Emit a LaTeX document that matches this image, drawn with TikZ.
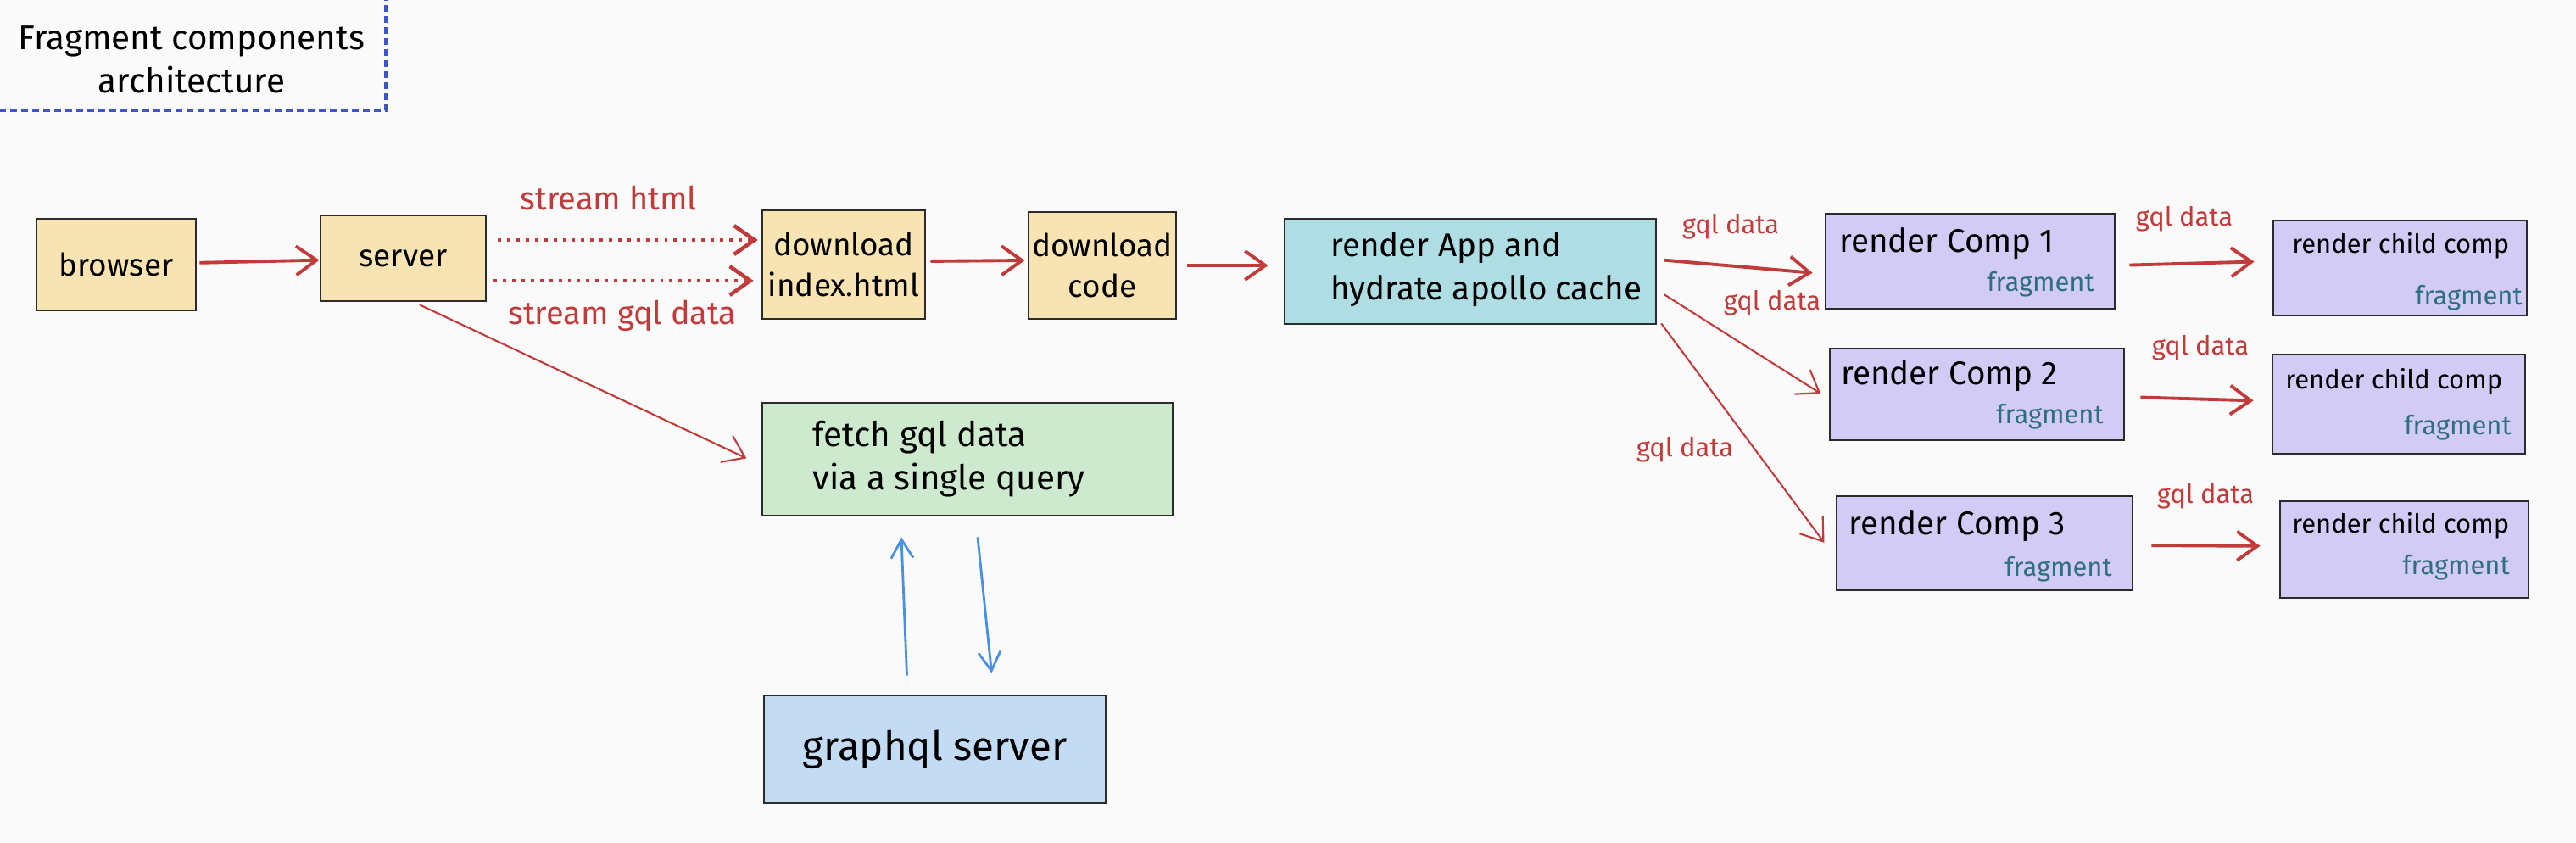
\documentclass[tikz,border=0pt]{standalone}
\usepackage{fontspec}
\setmainfont{Fira Sans}
\usetikzlibrary{arrows.meta, positioning, calc}

\definecolor{bgpaper}{HTML}{FAFAFA}
\definecolor{inkline}{HTML}{2B2B2B}
\definecolor{sandfill}{HTML}{F8E3B2}
\definecolor{mintfill}{HTML}{CDEACF}
\definecolor{tealfill}{HTML}{AEDDE3}
\definecolor{lilacfill}{HTML}{D2CBF6}
\definecolor{skyfill}{HTML}{C3DBF3}
\definecolor{flowred}{HTML}{C23B3B}
\definecolor{fragteal}{HTML}{2F6F7E}
\definecolor{queryblue}{HTML}{4A90E2}
\definecolor{frameblue}{HTML}{3D55C8}

\begin{document}
\begin{tikzpicture}[
    box/.style={rectangle, draw=inkline, line width=0.8pt, inner sep=0pt, align=center, font={\fontsize{10.5}{13.5}\selectfont}},
    comptext/.style={inner sep=0pt, font={\fontsize{11}{13}\selectfont}},
    childtext/.style={inner sep=0pt, font={\fontsize{8.8}{11}\selectfont}},
    fragtext/.style={inner sep=0pt, text=fragteal, font={\fontsize{8.8}{11}\selectfont}},
    flow/.style={-{Straight Barb[length=2.4mm, width=3.4mm]}, draw=flowred, line width=1.1pt},
    thinflow/.style={flow, line width=0.6pt},
    streamflow/.style={flow, dotted, line width=1.3pt},
    query/.style={-{Straight Barb[length=2.2mm, width=2.6mm]}, draw=queryblue, line width=0.8pt},
    lbl/.style={text=flowred, inner sep=0pt, font={\fontsize{8.8}{11}\selectfont}},
    streamlbl/.style={lbl, font={\fontsize{10.8}{13}\selectfont}}
]

\useasboundingbox[fill=bgpaper] (0,0) rectangle (30.38,-9.94);

% === Title ===
\draw[frameblue, line width=1.1pt, dash pattern=on 2.3pt off 1.4pt] (-0.2,0.2) rectangle (4.55,-1.30);
\node[align=center, font={\fontsize{11.5}{14.5}\selectfont}] (title) at (2.26,-0.70) {Fragment components\\architecture};

% === Loading pipeline ===
\node[box, fill=sandfill, minimum width=1.88cm, minimum height=1.08cm] (browser) at (1.37,-3.12) {browser};
\node[box, fill=sandfill, minimum width=1.95cm, minimum height=1.01cm] (server) at (4.755,-3.045) {server};
\node[box, fill=sandfill, minimum width=1.92cm, minimum height=1.28cm] (index) at (9.95,-3.12) {download\\index.html};
\node[box, fill=sandfill, minimum width=1.74cm, minimum height=1.26cm] (code) at (13.0,-3.13) {download\\code};
\node[box, fill=tealfill, minimum width=4.38cm, minimum height=1.24cm] (app) at (17.34,-3.20) {};
\node[align=left, anchor=west, inner sep=0pt, font={\fontsize{11}{14.5}\selectfont}] (apptext) at ($(app.west)+(0.55,0.02)$) {render App and\\hydrate apollo cache};

\draw[flow, shorten <=0.3mm] (browser) -- (server);
\coordinate (htmlout) at ([xshift=1.3mm, yshift=2.15mm]server.east);
\coordinate (gqlout) at ([xshift=0.8mm, yshift=-2.65mm]server.east);
\draw[streamflow, shorten >=0.4mm] (htmlout) -- (htmlout -| index.west);
\draw[streamflow, shorten >=0.9mm] (gqlout) -- (gqlout -| index.west);
\draw[flow, shorten <=0.5mm, shorten >=0.3mm] ([yshift=0.4mm]index.east) -- ([yshift=0.6mm]code.west);
\draw[flow, shorten <=1.2mm, shorten >=1.8mm] (code.east) -- (code.east -| app.west);

\node[streamlbl] (lblhtml) at (7.18,-2.34) {stream html};
\node[streamlbl] (lblgql) at (7.34,-3.72) {stream gql data};

% === Data fetching ===
\node[box, fill=mintfill, minimum width=4.84cm, minimum height=1.33cm] (fetch) at (11.41,-5.415) {};
\node[align=left, anchor=west, inner sep=0pt, font={\fontsize{11.5}{14.5}\selectfont}] (fetchtext) at ($(fetch.west)+(0.6,0)$) {fetch gql data\\via a single query};
\node[box, fill=skyfill, minimum width=4.03cm, minimum height=1.27cm, font={\fontsize{13.5}{16}\selectfont}] (gqlsrv) at (11.025,-8.835) {graphql server};

\draw[thinflow, shorten <=0.7mm, shorten >=1.9mm] ([xshift=1.3mm]server.south) -- ([yshift=-0.7mm]fetch.west);
\draw[query] ([xshift=-3.3mm, yshift=2.2mm]gqlsrv.north) -- ([xshift=-7.8mm, yshift=-2.4mm]fetch.south);
\draw[query] ([xshift=1.2mm, yshift=-2.4mm]fetch.south) -- ([xshift=6.7mm, yshift=2.5mm]gqlsrv.north);

% === Components ===
\node[box, fill=lilacfill, minimum width=3.41cm, minimum height=1.12cm] (comp1) at (23.235,-3.08) {};
\node[box, fill=lilacfill, minimum width=3.47cm, minimum height=1.08cm] (comp2) at (23.315,-4.65) {};
\node[box, fill=lilacfill, minimum width=3.49cm, minimum height=1.11cm] (comp3) at (23.405,-6.405) {};
\node[comptext, anchor=west] (comp1t) at ($(comp1.north west)+(0.17,-0.37)$) {render Comp 1};
\node[comptext, anchor=west] (comp2t) at ($(comp2.north west)+(0.14,-0.34)$) {render Comp 2};
\node[comptext, anchor=west] (comp3t) at ($(comp3.north west)+(0.15,-0.37)$) {render Comp 3};
\node[fragtext, anchor=east] (comp1f) at ($(comp1.south east)+(-0.25,0.30)$) {fragment};
\node[fragtext, anchor=east] (comp2f) at ($(comp2.south east)+(-0.25,0.29)$) {fragment};
\node[fragtext, anchor=east] (comp3f) at ($(comp3.south east)+(-0.25,0.26)$) {fragment};

\node[box, fill=lilacfill, minimum width=2.99cm, minimum height=1.12cm] (child1) at (28.305,-3.16) {};
\node[box, fill=lilacfill, minimum width=2.98cm, minimum height=1.17cm] (child2) at (28.29,-4.765) {};
\node[box, fill=lilacfill, minimum width=2.93cm, minimum height=1.14cm] (child3) at (28.355,-6.48) {};
\node[childtext, anchor=west] (child1t) at ($(child1.north west)+(0.23,-0.31)$) {render child comp};
\node[childtext, anchor=west] (child2t) at ($(child2.north west)+(0.16,-0.33)$) {render child comp};
\node[childtext, anchor=west] (child3t) at ($(child3.north west)+(0.15,-0.30)$) {render child comp};
\node[fragtext, anchor=east] (child1f) at ($(child1.south east)+(-0.06,0.22)$) {fragment};
\node[fragtext, anchor=east] (child2f) at ($(child2.south east)+(-0.17,0.32)$) {fragment};
\node[fragtext, anchor=east] (child3f) at ($(child3.south east)+(-0.23,0.37)$) {fragment};

\draw[flow, shorten <=0.8mm, shorten >=1.4mm] ([yshift=1.4mm]app.east) -- ([yshift=-1.5mm]comp1.west);
\draw[thinflow, shorten <=1mm, shorten >=1.1mm] ([yshift=-2.2mm]app.east) -- ([yshift=-0.5mm]comp2.west);
\draw[thinflow, shorten <=0.8mm, shorten >=2.2mm] ([yshift=-5.5mm]app.east) -- ([yshift=-1.7mm]comp3.west);
\draw[flow, shorten <=1.6mm, shorten >=2.1mm] ([yshift=-0.5mm]comp1.east) -- ([yshift=0.8mm]child1.west);
\draw[flow, shorten <=1.8mm, shorten >=2.1mm] ([yshift=-0.3mm]comp2.east) -- ([yshift=0.35mm]child2.west);
\draw[flow, shorten <=2.1mm, shorten >=2.2mm] ([yshift=-0.25mm]comp3.east) -- ([yshift=0.4mm]child3.west);

\node[lbl] (lblc1) at (20.41,-2.67) {gql data};
\node[lbl] (lblc2) at (20.90,-3.57) {gql data};
\node[lbl] (lblc3) at (19.87,-5.30) {gql data};
\node[lbl] (lblk1) at (25.76,-2.58) {gql data};
\node[lbl] (lblk2) at (25.95,-4.10) {gql data};
\node[lbl] (lblk3) at (26.01,-5.85) {gql data};

\end{tikzpicture}
\end{document}
